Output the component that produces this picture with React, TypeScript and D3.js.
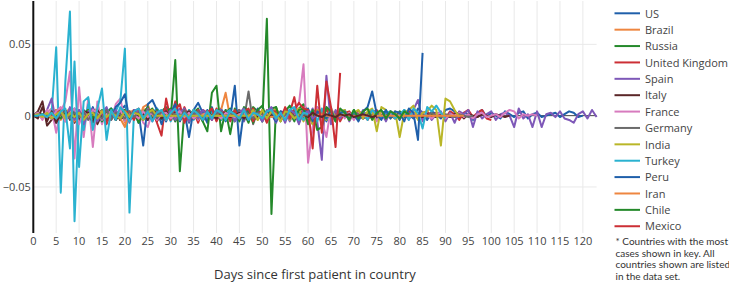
import React from "react";
import * as d3 from "d3";

const DAY_TICKS = [0, 5, 10, 15, 20, 25, 30, 35, 40, 45, 50, 55, 60, 65, 70, 75, 80, 85, 90, 95, 100, 105, 110, 115, 120];
const Y_TICKS = [-0.05, 0, 0.05];
const Y_TICK_LABELS = ["\u22120.05", "0", "0.05"];
const LEGEND_NAMES = ["US", "Brazil", "Russia", "United Kingdom", "Spain", "Italy", "France", "Germany", "India", "Turkey", "Peru", "Iran", "Chile", "Mexico"];
const NOTE_LINES = ["* Countries with the most", "cases shown in key. All", "countries shown are listed", "in the data set."];

const US = [
  0.000, 0.000, 0.001, -0.001, 0.002, 0.000, -0.002, 0.003, -0.001, 0.002,
  -0.003, 0.004, -0.002, 0.001, 0.003, -0.004, 0.002, 0.005, -0.003, 0.004,
  0.007, -0.002, 0.003, -0.005, 0.004, 0.002, -0.003, 0.005, 0.001, -0.004,
  0.003, 0.006, -0.002, 0.004, -0.005, 0.003, 0.002, -0.003, 0.004, -0.002,
  0.001, 0.005, -0.004, 0.003, 0.002, -0.003, 0.004, 0.001, -0.002, 0.003,
  -0.004, 0.002, 0.005, -0.003, 0.001, 0.004, -0.002, 0.003, -0.005, 0.002,
  0.004, -0.003, 0.006, 0.002, -0.004, 0.003, 0.001, -0.002, 0.004, -0.003,
  0.002, 0.003, -0.002, 0.001, 0.004, -0.003, 0.002, 0.003, -0.001, 0.002,
  -0.003, 0.004, 0.001, -0.002, 0.005, 0.002, -0.003, 0.003, 0.001, -0.002,
  0.004, 0.005, 0.003, -0.002, 0.002, 0.001, -0.003, 0.002, 0.004, -0.001,
  0.002, 0.000, -0.002, 0.003, 0.001, -0.001, 0.002, 0.003, -0.002, 0.001,
  0.002, -0.001, 0.000, 0.001, 0.002, -0.001, 0.001, 0.003, 0.002, -0.001, 0.000,
];
const BRAZIL = [
  0.000, 0.000, 0.000, 0.001, 0.002, -0.001, 0.003, -0.002, 0.001, 0.004,
  -0.003, 0.002, -0.001, 0.003, 0.005, -0.004, 0.002, 0.003, -0.002, 0.004,
  -0.005, 0.002, 0.004, -0.003, 0.006, 0.008, -0.002, 0.004, 0.001, -0.003,
  0.002, 0.005, -0.002, 0.003, -0.004, 0.002, 0.001, -0.002, 0.003, 0.002,
  -0.003, 0.004, 0.016, -0.002, 0.003, -0.001, 0.002, 0.004, -0.003, 0.002,
  0.001, -0.002, 0.003, -0.001, 0.002, 0.001, -0.002, 0.003, 0.001, -0.001,
  0.002, -0.001, 0.001, 0.002, -0.002, 0.001, 0.000, 0.001, -0.001, 0.001,
  0.000, 0.001, -0.001, 0.000, 0.001, 0.000, -0.001, 0.001, 0.000, 0.000,
  0.001, -0.001, 0.000, 0.001, 0.000, -0.001, 0.000, 0.001, 0.000, 0.000,
  0.000,
];
const RUSSIA = [
  0.000, 0.001, -0.001, 0.002, -0.002, 0.003, -0.001, 0.002, 0.000, -0.002,
  0.003, -0.001, 0.002, -0.003, 0.001, 0.004, -0.002, 0.001, 0.003, -0.003,
  0.002, 0.001, -0.002, 0.004, -0.003, 0.002, 0.005, -0.004, 0.003, 0.006,
  -0.002, 0.039, -0.039, 0.004, -0.003, 0.002, 0.005, -0.004, 0.003, -0.002,
  0.004, -0.003, 0.002, 0.005, -0.004, 0.003, 0.002, -0.005, 0.006, 0.003,
  -0.004, 0.068, -0.069, 0.006, -0.003, 0.004, 0.002, -0.004, 0.005, 0.008,
  0.003, -0.006, 0.004, -0.003, 0.005, 0.002, -0.004, 0.003, 0.001, -0.002,
  0.004, -0.003, 0.002, 0.001, -0.002, 0.003, -0.001, 0.002, 0.000, -0.002,
  0.003, 0.001, -0.002, 0.002, 0.000, -0.001, 0.002, 0.001, -0.001, 0.001,
  0.000, 0.001, -0.001, 0.000,
];
const UK = [
  0.000, 0.000, 0.001, 0.000, -0.001, 0.002, 0.000, -0.002, 0.003, -0.001,
  0.002, -0.003, 0.001, 0.004, -0.002, 0.003, -0.006, 0.002, 0.004, -0.003,
  0.002, -0.004, 0.003, 0.005, -0.002, 0.003, 0.004, -0.005, -0.014, 0.012,
  -0.003, 0.010, -0.004, 0.006, -0.002, 0.003, -0.005, 0.004, 0.002, -0.003,
  0.005, -0.002, 0.003, -0.004, 0.002, 0.004, -0.003, 0.002, 0.005, -0.002,
  0.003, -0.004, 0.002, 0.004, -0.003, 0.005, 0.002, 0.013, -0.004, 0.006,
  -0.005, 0.003, 0.004, -0.006, 0.005, -0.002, 0.003, -0.004, 0.002, 0.003,
  -0.002, 0.003, 0.001, -0.003, 0.002, 0.004, -0.002, 0.001, 0.003, -0.002,
  0.002, -0.001, 0.003, 0.001, -0.002, 0.002, 0.003, -0.001, 0.002, 0.000,
  -0.002, 0.003, 0.001, -0.003, 0.002, 0.004, -0.001, 0.002, 0.004, -0.002,
  -0.003,
];
const SPAIN = [
  0.000, 0.000, 0.000, 0.001, -0.001, 0.002, -0.002, 0.003, 0.001, -0.003,
  0.002, -0.001, 0.003, -0.002, 0.004, -0.003, 0.002, 0.001, -0.002, 0.003,
  0.004, -0.003, 0.002, -0.004, 0.003, 0.005, -0.003, 0.002, -0.002, 0.004,
  -0.003, 0.002, 0.005, -0.004, 0.003, -0.002, 0.004, 0.001, -0.003, 0.002,
  0.003, -0.002, 0.004, -0.003, 0.002, 0.001, -0.004, 0.003, 0.002, -0.002,
  0.004, -0.003, 0.002, -0.005, 0.003, 0.002, -0.004, 0.003, -0.006, 0.004,
  -0.002, 0.005, -0.004, -0.031, 0.028, -0.006, 0.004, -0.002, 0.003, -0.004,
  0.002, -0.003, 0.004, -0.002, 0.003, -0.001, 0.002, -0.004, 0.003, 0.001,
  -0.002, 0.003, -0.003, 0.004, 0.011, -0.004, 0.002, -0.003, 0.001, 0.003,
  -0.004, 0.002, -0.005, 0.003, 0.001, 0.004, -0.008, 0.003, -0.002, 0.001,
  0.003, -0.003, 0.001, 0.002, 0.000, -0.008, 0.005, -0.002, 0.001, -0.008,
  0.003, -0.008, 0.001, 0.002, -0.001, 0.003, -0.002, -0.003, -0.005, 0.001,
  0.003, -0.002, 0.004, -0.001,
];
const ITALY = [
  0.000, 0.003, 0.010, -0.007, -0.003, 0.004, 0.001, -0.002, 0.003, -0.005,
  0.002, -0.004, 0.003, 0.002, -0.006, 0.001, 0.003, -0.002, 0.002, -0.003,
  0.001, 0.003, -0.002, 0.002, 0.001, -0.003, 0.002, -0.001, 0.003, -0.002,
  0.002, -0.001, 0.001, 0.002, -0.002, 0.001, 0.002, -0.001, 0.001, -0.002,
  0.002, 0.001, -0.001, 0.002, -0.002, 0.001, 0.000, 0.002, -0.001, 0.001,
  -0.002, 0.001, 0.002, -0.001, 0.001, 0.000, -0.002, 0.002, 0.001, -0.001,
  0.001, -0.002, 0.002, 0.000, -0.001, 0.002, -0.001, 0.001, 0.000, -0.001,
  0.001, 0.000, -0.002, 0.001, 0.001, -0.001, 0.000, 0.001, -0.001, 0.000,
  0.001, -0.001, 0.000, 0.001, 0.000, -0.001, 0.001, 0.000, -0.001, 0.001,
  0.000, -0.001, 0.001, 0.002, -0.002, 0.001, 0.000, -0.001, 0.001, 0.000,
  -0.001, 0.001, 0.000, -0.001, 0.000,
];
const FRANCE = [
  0.000, 0.001, -0.001, 0.002, 0.005, -0.012, 0.003, 0.010, 0.031, -0.030,
  0.020, -0.015, 0.012, -0.022, 0.010, -0.006, 0.004, -0.003, 0.008, 0.012,
  -0.004, 0.003, -0.002, 0.004, -0.005, -0.008, 0.003, -0.002, 0.004, -0.003,
  0.002, -0.004, 0.003, 0.001, -0.002, 0.004, -0.003, 0.002, -0.001, 0.003,
  -0.002, 0.001, 0.003, -0.003, 0.002, -0.001, 0.002, 0.003, -0.002, 0.001,
  -0.003, 0.002, 0.001, -0.002, 0.003, -0.001, 0.002, 0.004, 0.008, 0.036,
  -0.033, -0.008, 0.006, -0.004, -0.015, 0.006, -0.003, 0.004, -0.002, 0.002,
  -0.003, 0.002, 0.001, -0.002, 0.003, -0.004, 0.002, -0.001, 0.002, -0.002,
  0.001, 0.003, -0.002, 0.002, -0.001, 0.002, 0.000, -0.002, 0.001, 0.002,
  -0.002, 0.001, 0.000, 0.002, -0.001, 0.001, -0.002, 0.001, 0.002, -0.001,
  0.000, 0.001, -0.001, 0.002, 0.004, 0.003, -0.002, 0.001, 0.000, 0.001,
  0.000,
];
const GERMANY = [
  0.000, 0.000, 0.000, 0.001, 0.000, -0.001, 0.002, -0.002, 0.001, 0.003,
  -0.002, 0.001, 0.002, -0.003, 0.002, 0.001, -0.002, 0.003, -0.001, 0.002,
  -0.003, 0.002, 0.001, -0.002, 0.003, 0.002, -0.003, 0.004, -0.002, 0.001,
  0.003, -0.002, 0.002, -0.003, 0.004, 0.001, -0.002, 0.003, -0.001, 0.002,
  -0.002, 0.003, 0.001, -0.003, 0.002, 0.004, -0.003, 0.017, -0.006, 0.003,
  -0.002, 0.004, -0.001, 0.002, -0.003, 0.002, 0.001, -0.002, 0.003, -0.001,
  0.002, -0.002, 0.001, 0.003, -0.002, 0.001, -0.001, 0.002, 0.000, -0.002,
  0.002, 0.001, -0.001, 0.002, -0.002, 0.001, 0.000, 0.002, -0.001, 0.001,
  -0.002, 0.001, 0.002, -0.001, 0.000, 0.001, -0.001, 0.002, 0.000, -0.001,
  0.001, 0.000, -0.001, 0.001, 0.000, -0.001, 0.000,
];
const INDIA = [
  0.000, 0.000, 0.000, 0.000, 0.000, 0.000, 0.000, 0.000, 0.000, 0.000,
  0.000, 0.000, 0.000, 0.000, 0.000, 0.000, 0.000, 0.000, 0.000, 0.000,
  0.000, 0.000, 0.000, 0.000, 0.000, 0.000, 0.000, 0.000, 0.000, 0.000,
  0.000, 0.000, 0.000, 0.000, 0.000, 0.000, 0.000, 0.000, 0.000, 0.000,
  0.000, 0.000, 0.000, 0.000, 0.000, 0.000, 0.000, 0.000, 0.004, -0.003,
  0.002, -0.004, 0.003, 0.005, -0.002, 0.004, -0.003, 0.002, 0.005, -0.004,
  0.003, -0.006, 0.004, 0.002, -0.003, 0.005, -0.002, 0.003, 0.004, -0.003,
  0.002, 0.004, -0.002, 0.003, 0.005, -0.011, 0.006, 0.004, -0.002, 0.003,
  -0.015, 0.002, 0.004, 0.007, -0.003, 0.002, 0.003, 0.007, 0.004, -0.021,
  0.012, 0.010, 0.004, -0.001,
];
const TURKEY = [
  0.000, 0.000, 0.000, 0.000, 0.002, 0.048, -0.054, 0.024, 0.073, -0.074,
  0.004, -0.010, 0.008, -0.005, 0.003, -0.004, 0.002, 0.005, 0.003, 0.010,
  0.047, -0.068, 0.003, -0.002, 0.004, -0.003, 0.002, 0.005, -0.002, 0.003,
  -0.004, 0.002, 0.003, -0.002, 0.004, -0.003, 0.001, 0.002, -0.002, 0.003,
  0.001, -0.003, 0.002, 0.004, -0.002, 0.001, 0.003, -0.002, 0.002, -0.001,
  0.003, -0.002, 0.001, 0.002, -0.003, 0.002, 0.004, -0.002, 0.001, -0.003,
  0.002, 0.003, -0.004, 0.005, -0.002, 0.003, -0.003, 0.002, 0.001, -0.002,
  0.003, -0.001, 0.002, -0.003, 0.004, 0.001, -0.002, 0.002, 0.003, -0.002,
  0.001, 0.004, -0.003, 0.005, 0.002, -0.009, 0.006, 0.003, 0.007, 0.002,
  -0.002,
];
const PERU = [
  0.000, 0.002, -0.001, 0.003, -0.002, 0.001, 0.004, -0.003, 0.002, 0.005,
  -0.004, 0.003, -0.002, 0.006, -0.003, 0.002, 0.004, -0.002, 0.006, 0.009,
  0.015, -0.003, 0.004, 0.002, -0.021, 0.008, 0.011, 0.004, -0.006, 0.005,
  0.002, 0.008, -0.004, 0.003, -0.015, 0.004, 0.009, 0.002, -0.005, 0.006,
  -0.003, 0.004, 0.001, -0.002, 0.021, -0.021, 0.004, 0.002, -0.003, 0.005,
  -0.002, 0.003, 0.001, -0.004, 0.003, 0.002, -0.002, 0.004, -0.003, 0.002,
  0.005, -0.004, 0.003, 0.001, -0.002, 0.004, -0.003, 0.002, 0.003, -0.002,
  0.001, -0.004, 0.003, 0.006, 0.017, 0.001, -0.003, 0.004, -0.002, 0.003,
  0.002, -0.004, 0.005, 0.002, -0.017, 0.044,
];
const IRAN = [
  0.000, 0.002, -0.002, 0.003, -0.001, 0.004, -0.003, 0.002, 0.005, -0.004,
  0.003, -0.002, 0.004, -0.003, 0.002, 0.003, -0.004, 0.002, 0.001, -0.002,
  -0.008, 0.003, 0.002, -0.003, 0.004, 0.005, -0.002, 0.003, -0.001, 0.002,
  0.001, -0.002, 0.003, -0.001, 0.002, 0.000, -0.002, 0.001, 0.002, -0.001,
  0.001, 0.002, -0.001, 0.001, 0.000, -0.001, 0.002, 0.000, -0.001, 0.001,
  0.000, 0.001, -0.001, 0.000, 0.001, 0.000, -0.001, 0.001, 0.000, 0.000,
  0.001, -0.001, 0.000, 0.001, 0.000, 0.000, -0.001, 0.000, 0.001, 0.000,
  0.000, 0.000, 0.000, 0.000, 0.000, 0.000, 0.000, 0.000, 0.000, 0.000,
  0.000, 0.000, 0.000, 0.000, 0.000, 0.000, 0.000, 0.000, 0.000, 0.000,
  0.000, 0.000, 0.000, 0.000, 0.000,
];
const CHILE = [
  0.000, 0.000, 0.001, -0.001, 0.002, 0.000, -0.002, 0.003, -0.001, 0.002,
  -0.003, 0.002, 0.004, -0.002, 0.003, -0.004, 0.002, 0.005, -0.003, 0.002,
  0.004, -0.002, 0.003, -0.005, 0.002, 0.006, -0.003, 0.004, -0.002, 0.003,
  0.005, -0.004, 0.002, 0.003, -0.003, 0.004, 0.002, -0.004, -0.011, 0.016,
  0.021, -0.011, 0.004, -0.013, 0.005, -0.004, 0.006, 0.003, -0.005, 0.004,
  0.007, -0.003, 0.005, 0.006, -0.004, 0.003, 0.007, -0.002, 0.004, 0.005,
  -0.006, 0.004, -0.010, -0.008, 0.006, 0.003, -0.004, 0.005, 0.002, -0.003,
  0.004, -0.002, 0.003, 0.005, -0.003, 0.002, 0.004, -0.002, 0.003, 0.001,
  -0.002, 0.003, 0.001,
];
const MEXICO = [
  0.000, 0.001, -0.002, 0.003, -0.001, 0.002, 0.004, -0.003, 0.002, -0.001,
  0.003, -0.002, 0.001, 0.004, -0.003, 0.002, -0.004, 0.003, 0.001, -0.002,
  0.003, 0.002, -0.003, 0.004, -0.002, 0.001, 0.003, -0.004, 0.002, 0.005,
  -0.003, 0.004, 0.008, -0.005, 0.003, -0.002, 0.004, -0.003, 0.002, 0.005,
  -0.004, 0.003, 0.002, -0.003, 0.004, -0.002, 0.003, 0.005, -0.004, 0.002,
  0.003, -0.005, 0.004, 0.002, -0.003, 0.006, -0.002, 0.004, 0.009, 0.005,
  0.004, -0.023, 0.021, -0.012, 0.024, 0.006, -0.022, 0.030,
];
// other countries plotted without a legend entry
const OTHER_A = [
  0.000, 0.001, -0.002, 0.004, 0.012, -0.005, 0.003, -0.004, 0.006, -0.003,
  0.004, -0.006, 0.003, 0.005, -0.004, 0.002, 0.006, -0.003, 0.004, -0.002,
  0.003, -0.005, 0.004, 0.002, -0.003, 0.005, -0.004, 0.003, 0.001, -0.002,
  0.004, -0.003, 0.002, 0.005, -0.004, 0.003, -0.002, 0.004, 0.001, -0.003,
  0.002, 0.004, -0.002, 0.003, -0.004, 0.002, 0.005, -0.003, 0.002, 0.001,
  -0.004, 0.003, 0.006, -0.003, 0.002, -0.005, 0.004, 0.002, -0.003, 0.001,
  0.003, -0.002, 0.001,
];
const OTHER_B = [
  0.000, -0.002, 0.006, -0.004, 0.003, -0.005, 0.002, 0.004, -0.003, 0.001,
  -0.004, 0.003, 0.002, -0.005, 0.004, -0.002, 0.001, 0.003, -0.003, 0.002,
  0.001, -0.002, 0.003, -0.001, 0.002, -0.003, 0.004, 0.001, -0.002, 0.003,
  -0.001, 0.002, -0.002, 0.001, 0.003, -0.002, 0.001, -0.001, 0.002, 0.000,
  -0.002, 0.001, 0.002, -0.001, 0.000, 0.002, -0.002, 0.001, 0.000, -0.001,
  0.002, -0.001, 0.001, 0.000, -0.002, 0.001, 0.002, -0.001, 0.000, 0.001,
  -0.001, 0.002, 0.000, -0.001, 0.001, 0.000, -0.001, 0.001, 0.000, 0.001,
  -0.001, 0.000, 0.001, 0.000, -0.001, 0.000,
];
const OTHER_C = [
  0.000, 0.002, -0.003, 0.004, -0.002, 0.003, 0.006, -0.004, 0.002, 0.005,
  -0.006, 0.003, -0.002, 0.004, 0.002, -0.003, 0.001, 0.003, -0.002, 0.004,
  -0.003, 0.002, 0.001, -0.002, 0.003, -0.001, 0.002, -0.003, 0.001, 0.002,
  -0.002, 0.001, 0.003, -0.001, 0.002, -0.002, 0.001, 0.000, 0.002, -0.001,
  0.001, -0.002, 0.002, 0.000, -0.001, 0.001, 0.002, -0.001, 0.000, 0.001,
  0.000,
];
const OTHER_D = [
  0.000, 0.001, 0.000, -0.001, 0.002, -0.002, 0.001, 0.003, -0.002, 0.002,
  -0.001, 0.003, -0.003, 0.002, 0.001, -0.002, 0.004, -0.003, 0.002, 0.001,
  -0.002, 0.003, -0.001, 0.002, -0.003, 0.004, 0.002, -0.002, 0.003, -0.001,
  0.002, 0.001, -0.003, 0.004, -0.002, 0.001, 0.003, -0.002, 0.002, -0.001,
  0.001, 0.003, -0.002, 0.002, 0.000, -0.002, 0.003, 0.001, -0.002, 0.002,
  0.001, -0.001, 0.002, 0.000, -0.002, 0.001, 0.002, -0.001, 0.000, 0.001,
  0.000,
];
const OTHER_E = [
  0.000, 0.001, -0.001, 0.002, -0.002, 0.001, 0.003, -0.002, 0.002, -0.001,
  0.002, -0.003, 0.001, 0.002, -0.002, 0.003, -0.001, 0.002, 0.000, -0.002,
  0.003, -0.001, 0.002, 0.001, -0.003, 0.002, 0.004, 0.000, 0.000, 0.000,
  0.000, 0.000, 0.000, 0.000, 0.000, 0.000, 0.000, 0.000, 0.000, 0.000,
  0.000, 0.000, 0.000, 0.000, 0.000, 0.000, 0.000, 0.000, 0.002, -0.003,
  0.004, -0.002, 0.003, 0.001, -0.004, 0.003, 0.002, -0.002, 0.001,
];
const OTHER_F = [
  0.000, 0.000, 0.001, -0.001, 0.002, -0.002, 0.003, 0.005, -0.023, 0.038,
  -0.036, 0.010, 0.013, -0.010, 0.005, 0.019, -0.017, 0.004, -0.003, 0.006,
  0.002, -0.004, 0.003, 0.005, -0.002, 0.003, -0.004, 0.002, 0.004, -0.003,
  0.002, 0.005, -0.003, 0.002, -0.002, 0.004, 0.001, -0.003, 0.003, -0.002,
  0.004, 0.002, -0.003, 0.003, 0.001, -0.002, 0.004, -0.003, 0.002, 0.001,
  -0.002, 0.003, 0.004, -0.002, 0.002, -0.003, 0.004, 0.006, -0.003, 0.002,
  0.001,
];

const PALETTE = ["#1f5faa", "#ee8640", "#24892a", "#cc2f35", "#7e58b8", "#5b2628", "#d77bbe", "#6b6b6b", "#b9b628", "#2ab2d0"];

const SERIES: { name: string; values: number[]; legend: boolean }[] = [
  { name: "US", values: US, legend: true },
  { name: "Brazil", values: BRAZIL, legend: true },
  { name: "Russia", values: RUSSIA, legend: true },
  { name: "United Kingdom", values: UK, legend: true },
  { name: "Spain", values: SPAIN, legend: true },
  { name: "Italy", values: ITALY, legend: true },
  { name: "France", values: FRANCE, legend: true },
  { name: "Germany", values: GERMANY, legend: true },
  { name: "India", values: INDIA, legend: true },
  { name: "Turkey", values: TURKEY, legend: true },
  { name: "Peru", values: PERU, legend: true },
  { name: "Iran", values: IRAN, legend: true },
  { name: "Chile", values: CHILE, legend: true },
  { name: "Mexico", values: MEXICO, legend: true },
  { name: "Other A", values: OTHER_A, legend: false },
  { name: "Other B", values: OTHER_B, legend: false },
  { name: "Other C", values: OTHER_C, legend: false },
  { name: "Other D", values: OTHER_D, legend: false },
  { name: "Other E", values: OTHER_E, legend: false },
  { name: "Other F", values: OTHER_F, legend: false },
];

const W = 729;
const H = 283;
const FONT = "'Open Sans', sans-serif";

export default function App() {
  const x = d3.scaleLinear().domain([0, 123]).range([33.3, 596.6]);
  const y = d3.scaleLinear().domain([-0.0823, 0.0804]).range([233, 1]);
  const line = d3
    .line<number>()
    .x((_, i) => x(i))
    .y((v) => y(v));

  return (
    <svg width={W} height={H} style={{ position: "absolute", left: 0, top: 0, background: "#fff" }}>
      {/* grid */}
      {DAY_TICKS.filter((t) => t > 0).map((t) => (
        <line key={"gx" + t} x1={x(t)} x2={x(t)} y1={1} y2={233} stroke="#e9e9e9" strokeWidth={1} />
      ))}
      {Y_TICKS.filter((t) => t !== 0).map((t) => (
        <line key={"gy" + t} x1={x(0)} x2={x(123)} y1={y(t)} y2={y(t)} stroke="#e9e9e9" strokeWidth={1} />
      ))}
      <line x1={x(0)} x2={x(123)} y1={y(0)} y2={y(0)} stroke="#444" strokeWidth={1} />
      {/* series */}
      <g fill="none" strokeWidth={2} strokeLinejoin="round">
        {SERIES.map((s, i) => (
          <path key={s.name} d={line(s.values) || ""} stroke={PALETTE[i % PALETTE.length]} />
        ))}
      </g>
      {/* y axis line */}
      <line x1={x(0)} x2={x(0)} y1={1} y2={233} stroke="#111" strokeWidth={2} />
      {/* ticks */}
      <g fontFamily={FONT} fontSize={11} fill="#444">
        {DAY_TICKS.map((t) => (
          <text key={"tx" + t} x={x(t)} y={244.8} textAnchor="middle">
            {t}
          </text>
        ))}
        {Y_TICKS.map((t, i) => (
          <text key={"ty" + t} x={30.8} y={y(t) + 4} textAnchor="end">
            {Y_TICK_LABELS[i]}
          </text>
        ))}
      </g>
      <text x={(x(0) + x(123)) / 2} y={278.5} textAnchor="middle" fontFamily={FONT} fontSize={13} fill="#333">
        Days since first patient in country
      </text>
      {/* legend */}
      <g fontFamily={FONT} fontSize={11} fill="#444">
        {LEGEND_NAMES.map((name, i) => {
          const cy = 13.3 + i * 16.38;
          return (
            <g key={"lg" + name}>
              <line x1={614.5} x2={640} y1={cy} y2={cy} stroke={PALETTE[i % PALETTE.length]} strokeWidth={2} />
              <text x={645} y={cy + 4.2}>
                {name}
              </text>
            </g>
          );
        })}
      </g>
      <g fontFamily="Lato, sans-serif" fontSize={10} fill="#333">
        {NOTE_LINES.map((l, i) => (
          <text key={"note" + i} x={615.5} y={245 + i * 11.6}>
            {l}
          </text>
        ))}
      </g>
    </svg>
  );
}
